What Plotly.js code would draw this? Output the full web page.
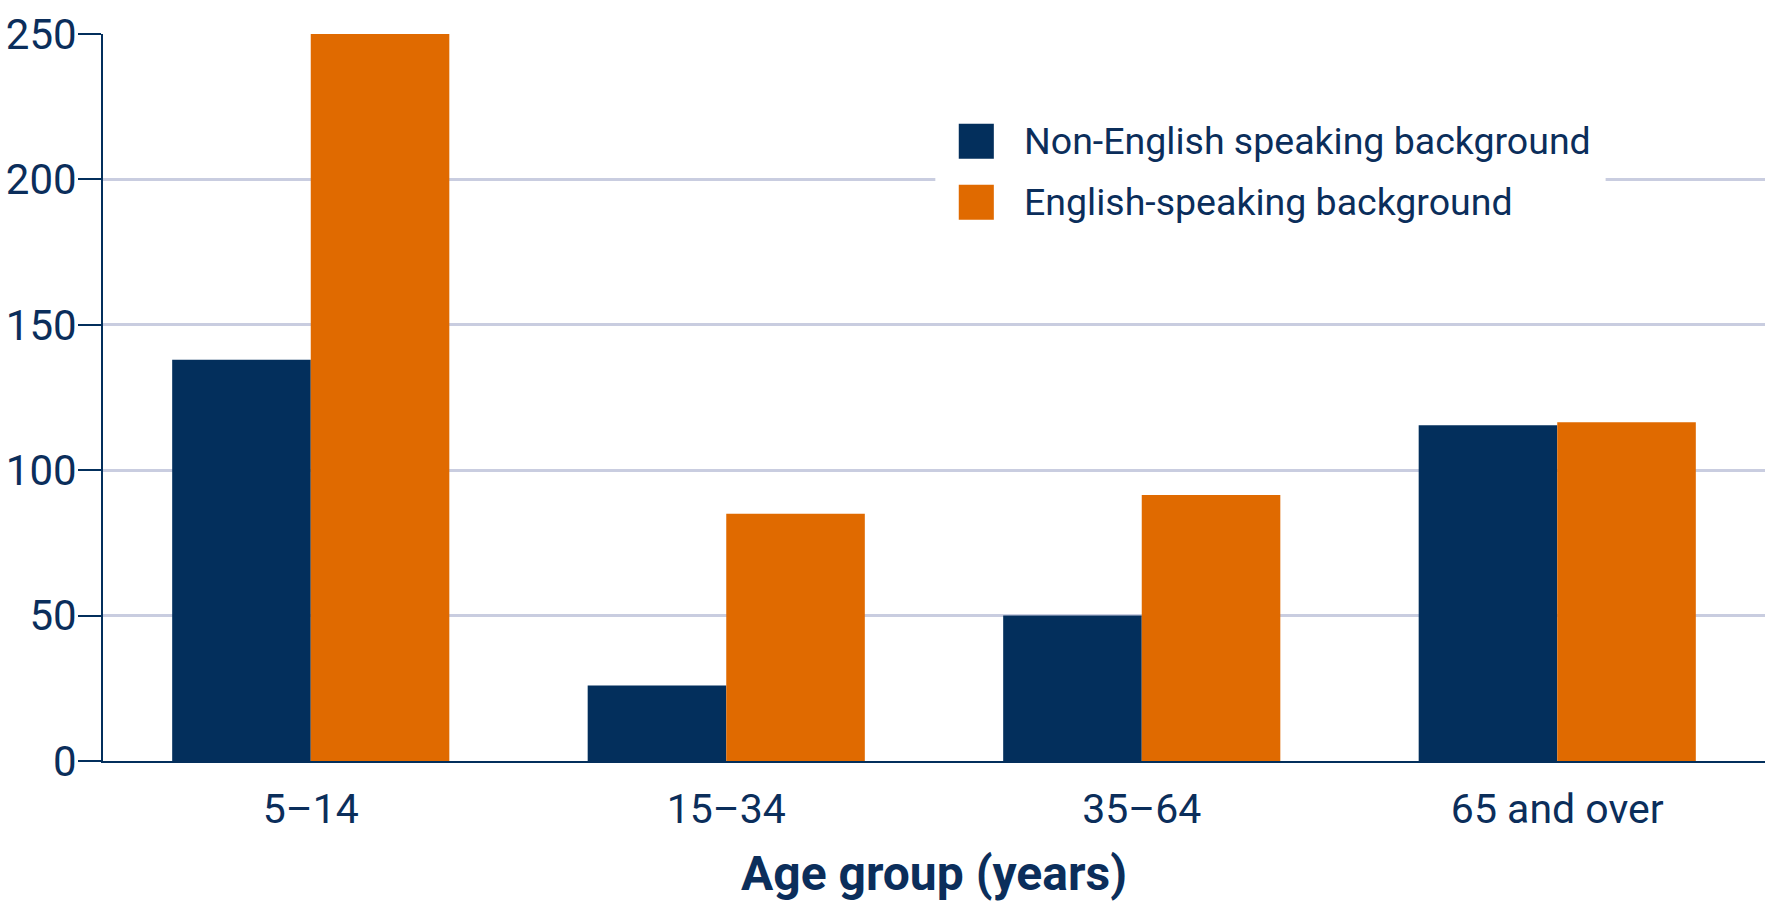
<!DOCTYPE html>
<html>
<head>
<meta charset="utf-8">
<script src="https://cdn.plot.ly/plotly-3.0.1.min.js"></script>
<style>
  html, body { margin: 0; padding: 0; background: #ffffff; }
  #chart { width: 1776px; height: 907px; }
</style>
</head>
<body>
<div id="chart"></div>
<script>
// ---- Data ----
const categories = ['5\u201314', '15\u201334', '35\u201364', '65 and over'];
const nonEnglishValues = [138, 26, 50, 115.5];
const englishValues = [250, 85, 91.5, 116.5];
const seriesNames = ['Non-English speaking background', 'English-speaking background'];
const yTickValues = [0, 50, 100, 150, 200, 250];
const xAxisTitle = 'Age group (years)';

// ---- Styles ----
const NAVY = '#032f5c';
const ORANGE = '#e06a00';
const TEXT = '#0b2e5b';
const GRID = '#c9cde0';
const FONT = 'Roboto, "Liberation Sans", sans-serif';
const seriesColors = [NAVY, ORANGE];

const traces = [
  { type: 'bar', x: categories, y: nonEnglishValues, name: seriesNames[0],
    marker: { color: seriesColors[0], line: { width: 0 } }, hoverinfo: 'x+y+name' },
  { type: 'bar', x: categories, y: englishValues, name: seriesNames[1],
    marker: { color: seriesColors[1], line: { width: 0 } }, hoverinfo: 'x+y+name' }
];

// Manual legend (large square swatches like the original)
const legX0 = 0.5008, legX1 = 0.9041, legY0 = 0.703, legY1 = 0.91;
const swX0 = 0.5149, swX1 = 0.5360;
const rowTop = [0.8766, 0.7926];
const swH = 0.0482;
const textX = 0.5528;

const shapes = [
  { type: 'rect', xref: 'paper', yref: 'paper', x0: legX0, x1: legX1, y0: legY0, y1: legY1,
    fillcolor: '#ffffff', line: { width: 0 }, layer: 'above' }
];
const annotations = [];
seriesNames.forEach((nm, i) => {
  shapes.push({ type: 'rect', xref: 'paper', yref: 'paper', x0: swX0, x1: swX1,
    y0: rowTop[i] - swH, y1: rowTop[i], fillcolor: seriesColors[i], line: { width: 0 }, layer: 'above' });
  annotations.push({ xref: 'paper', yref: 'paper', x: textX, y: rowTop[i] - swH / 2,
    xanchor: 'left', yanchor: 'middle', showarrow: false, text: nm,
    font: { family: FONT, size: 37.5, color: TEXT } });
});

const layout = {
  width: 1776, height: 907,
  margin: { l: 103, r: 11, t: 34, b: 146 },
  paper_bgcolor: '#ffffff', plot_bgcolor: '#ffffff',
  barmode: 'group', bargap: 0.333, bargroupgap: 0,
  showlegend: false,
  font: { family: FONT, color: TEXT },
  xaxis: {
    range: [-0.5, 3.5], showline: true, linecolor: NAVY, linewidth: 2,
    ticks: '', showgrid: false, zeroline: false,
    tickfont: { family: FONT, size: 41, color: TEXT },
    ticklabelstandoff: 11,
    title: { text: xAxisTitle, font: { family: FONT, size: 48, color: TEXT, weight: 700 }, standoff: 24 },
    fixedrange: true
  },
  yaxis: {
    range: [0, 250], tickmode: 'array', tickvals: yTickValues,
    showline: true, linecolor: NAVY, linewidth: 2,
    ticks: 'outside', ticklen: 23, tickwidth: 2, tickcolor: NAVY,
    showgrid: true, gridcolor: GRID, gridwidth: 2.5, zeroline: false,
    tickfont: { family: FONT, size: 42, color: TEXT },
    ticklabelstandoff: -7,
    fixedrange: true
  },
  shapes: shapes,
  annotations: annotations
};

Plotly.newPlot('chart', traces, layout, { displayModeBar: false, staticPlot: false, responsive: false });
</script>
</body>
</html>
